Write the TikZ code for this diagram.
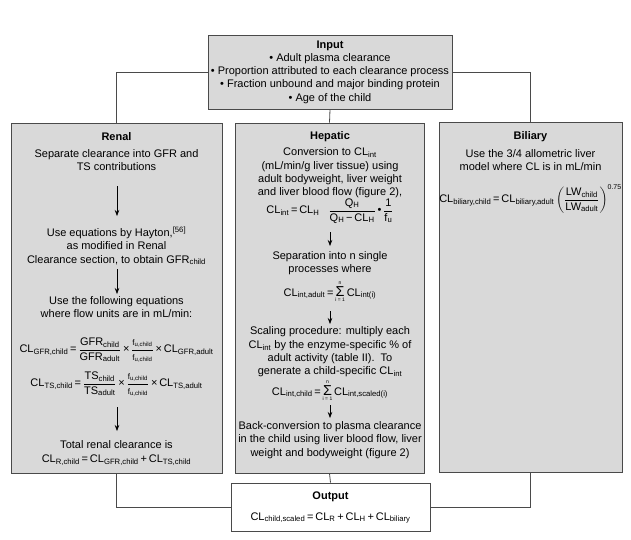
\documentclass[tikz,border=0pt]{standalone}
\usepackage{amsmath}
\usepackage{fontspec}
\setmainfont{Liberation Sans}
\usetikzlibrary{arrows.meta}
\definecolor{boxfill}{HTML}{D9D9D9}
\definecolor{edgecol}{HTML}{4A4A4A}
\newcommand\sbs[1]{\textsubscript{#1}}
\newcommand\sfr[2]{\ensuremath{\dfrac{\text{#1}}{\text{#2}}}}
\newcommand\smfr[2]{\ensuremath{\dfrac{\text{\footnotesize #1}}{\text{\footnotesize #2}}}}
\newcommand\sumin{\ensuremath{\mathop{\text{\Large Σ}}\limits_{\raisebox{1pt}{\tiny i = 1}}^{\raisebox{-1.5pt}{\tiny n}}}}
\tikzset{
  panel/.style={draw=edgecol, line width=0.9pt, fill=boxfill, rectangle, inner sep=0pt},
  whitepanel/.style={draw=edgecol, line width=0.9pt, fill=white, rectangle, inner sep=0pt},
  txt/.style={align=center, font=\fontsize{11}{13.3}\selectfont, inner sep=0pt, text=black},
  ttl/.style={txt, font=\fontsize{11}{13.3}\selectfont\bfseries},
  link/.style={draw=edgecol, line width=0.8pt},
  arr/.style={-{Stealth[length=6pt,width=4.5pt]}, draw=black, line width=0.7pt}
}
\begin{document}
\begin{tikzpicture}[x=1pt,y=-1pt]
\useasboundingbox (0,0) rectangle (631,539);
% boxes
\node[panel, minimum width=244, minimum height=74] (input) at (330,72) {};
\node[panel, minimum width=211, minimum height=350] (renal) at (116.5,298) {};
\node[panel, minimum width=189, minimum height=350] (hepatic) at (329.5,298) {};
\node[panel, minimum width=183, minimum height=350] (biliary) at (530.5,297) {};
\node[whitepanel, minimum width=199, minimum height=48] (output) at (330.5,507) {};
% connectors
\draw[link] (input.west) -| (renal.north);
\draw[link] (input.south) -- (hepatic.north);
\draw[link] (input.east) -| (biliary.north);
\draw[link] (renal.south) |- (output.west);
\draw[link] (hepatic.south) -- (output.north);
\draw[link] (biliary.south) |- (output.east);
% input text
\node[txt] (intext) at (330,72) {\textbf{Input}\\ • Adult plasma clearance\\ • Proportion attributed to each clearance process\\ • Fraction unbound and major binding protein\\ • Age of the child};
% renal
\node[ttl] (rtitle) at (116.5,137) {Renal};
\node[txt] (rsep) at (116.5,160) {Separate clearance into GFR and\\ TS contributions};
\node[txt] (rhay) at (116.5,246) {Use equations by Hayton,\textsuperscript{[56]}\\ as modified in Renal\\ Clearance section, to obtain GFR\sbs{child}};
\node[txt] (rfol) at (116.5,307) {Use the following equations\\ where flow units are in mL/min:};
\node[txt] (rgfr) at (116.5,350) {CL\sbs{GFR,child}\,=\,\sfr{GFR\sbs{child}}{GFR\sbs{adult}}\,×\,\smfr{f\sbs{u,child}}{f\sbs{u,child}}\,×\,CL\sbs{GFR,adult}};
\node[txt] (rts) at (116.5,384) {CL\sbs{TS,child}\,=\,\sfr{TS\sbs{child}}{TS\sbs{adult}}\,×\,\smfr{f\sbs{u,child}}{f\sbs{u,child}}\,×\,CL\sbs{TS,adult}};
\node[txt] (rtot) at (116.5,453) {Total renal clearance is\\ CL\sbs{R,child}\,=\,CL\sbs{GFR,child}\,+\,CL\sbs{TS,child}};
\coordinate (ra1) at (117,186); \coordinate (ra2) at (117,216);
\coordinate (rb1) at (117,269); \coordinate (rb2) at (117,294);
\coordinate (rc1) at (117,407); \coordinate (rc2) at (117,431);
\draw[arr] (ra1) -- (ra2);
\draw[arr] (rb1) -- (rb2);
\draw[arr] (rc1) -- (rc2);
% hepatic
\node[ttl] (htitle) at (330,137) {Hepatic};
\node[txt] (hconv) at (330,173) {Conversion to CL\sbs{int}\\ (mL/min/g liver tissue) using\\ adult bodyweight, liver weight\\ and liver blood flow (figure 2),};
\node[txt] (heq) at (330,211) {CL\sbs{int}\,=\,CL\sbs{H}\;\; \sfr{Q\sbs{H}}{Q\sbs{H}\,−\,CL\sbs{H}}\,•\,\sfr{1}{f\sbs{u}}};
\node[txt] (hsep) at (330,263) {Separation into n single\\ processes where};
\node[txt, anchor=base] (hsum1) at (330,296) {CL\sbs{int,adult}\,=\,\sumin\,CL\sbs{int(i)}};
\node[txt] (hscal) at (330,352) {Scaling procedure: multiply each\\ CL\sbs{int} by the enzyme-specific \% of\\ adult activity (table II).\ \ To\\ generate a child-specific CL\sbs{int}};
\node[txt, anchor=base] (hsum2) at (330,395) {CL\sbs{int,child}\,=\,\sumin\,CL\sbs{int,scaled(i)}};
\node[txt] (hback) at (330,440) {Back-conversion to plasma clearance\\ in the child using liver blood flow, liver\\ weight and bodyweight (figure 2)};
\coordinate (ha1) at (330,232); \coordinate (ha2) at (330,246);
\coordinate (hb1) at (330,311); \coordinate (hb2) at (330,324);
\coordinate (hc1) at (330,405); \coordinate (hc2) at (330,418);
\draw[arr] (ha1) -- (ha2);
\draw[arr] (hb1) -- (hb2);
\draw[arr] (hc1) -- (hc2);
% biliary
\node[ttl] (btitle) at (530.5,137) {Biliary};
\node[txt] (btext) at (530.5,160) {Use the 3/4 allometric liver\\ model where CL is in mL/min};
\node[txt] (beq) at (530.5,199) {CL\sbs{biliary,child}\,=\,CL\sbs{biliary,adult}\,\(\left(\dfrac{\text{LW\sbs{child}}}{\text{LW\sbs{adult}}}\right)^{\text{\scriptsize 0.75}}\)};
% output
\node[ttl] (otitle) at (330.5,497) {Output};
\node[txt] (oeq) at (330.5,518) {CL\sbs{child,scaled}\,=\,CL\sbs{R}\,+\,CL\sbs{H}\,+\,CL\sbs{biliary}};
\end{tikzpicture}
\end{document}
